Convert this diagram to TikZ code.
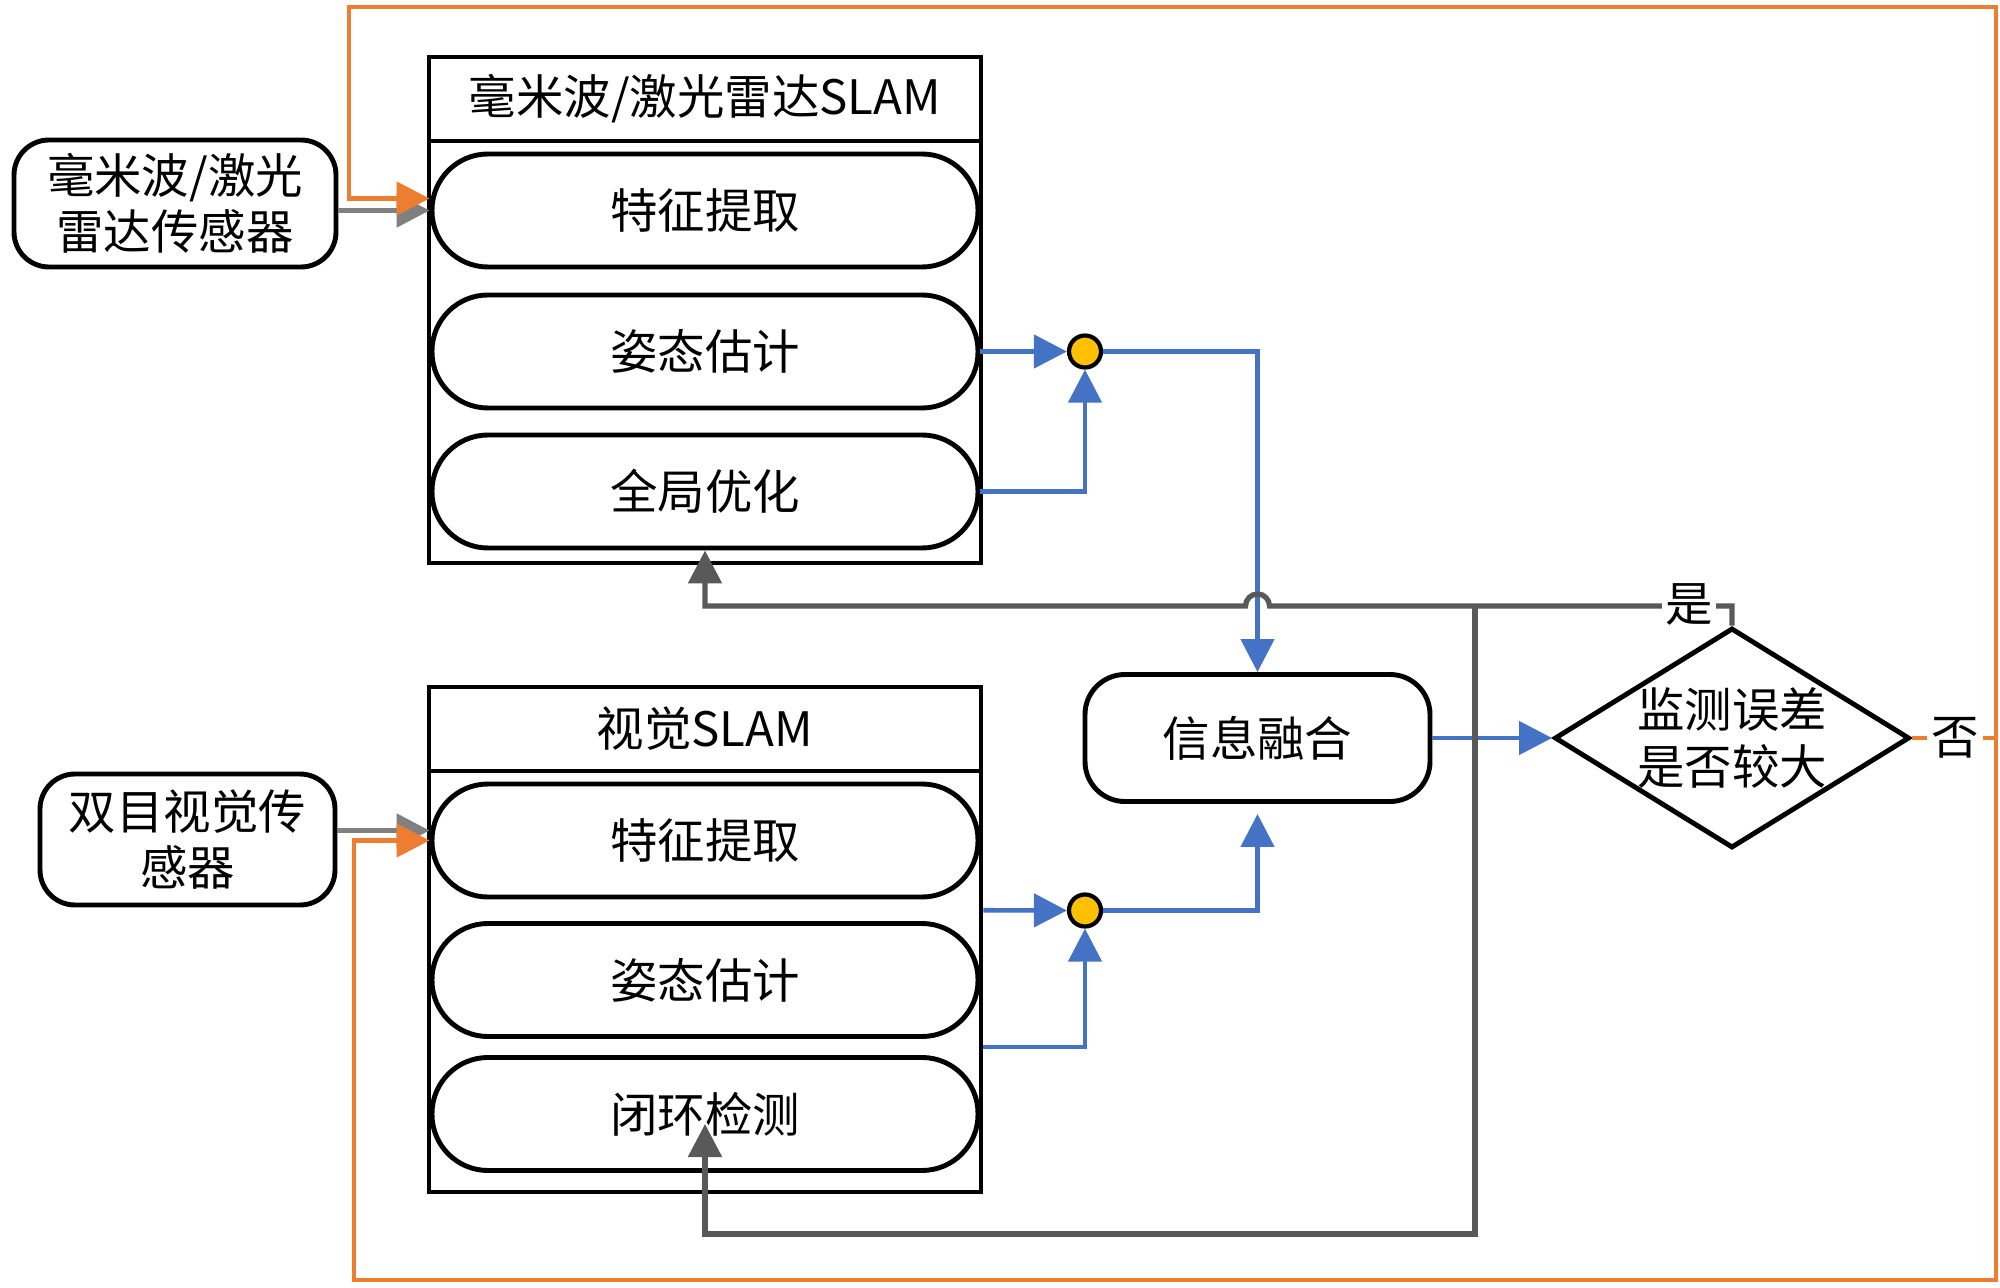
\documentclass[tikz,border=0pt]{standalone}
\usepackage{fontspec}
\setmainfont{Noto Sans CJK SC}
\usepackage{xcolor}
\usetikzlibrary{arrows.meta}
\usetikzlibrary{shapes.geometric}
\usetikzlibrary{calc}
\definecolor{lineorange}{HTML}{ED7D31}
\definecolor{lineblue}{HTML}{4472C4}
\definecolor{linegray}{HTML}{595959}
\definecolor{sensorgray}{HTML}{808080}
\definecolor{juncyellow}{HTML}{FFC000}
\tikzset{
	frame/.style={draw, line width=1.4pt, minimum width=5.52cm},
	pill/.style={draw, line width=1.4pt, rounded corners=0.56cm, minimum width=5.46cm, minimum height=1.13cm},
	sensor/.style={draw, line width=1.4pt, rounded corners=0.35cm, align=center, inner sep=0pt},
	junc/.style={draw, circle, fill=juncyellow, line width=1.2pt, minimum size=0.32cm, inner sep=0pt},
	tag/.style={fill=white, inner sep=1pt}
}

\begin{document}
\begin{tikzpicture}[font=\fontsize{13.5pt}{16pt}\selectfont, >={Triangle[length=0.33cm,width=0.33cm]}]
			\useasboundingbox (0,0) rectangle (20,-12.88);
			% radar SLAM
			\node[frame, minimum height=5.06cm] (lbox) at (7.05,-3.10){};
			\node[frame, minimum height=0.84cm] (ltitle) at (7.05,-0.99){毫米波/激光雷达SLAM};
			\node[pill] (l1) at (7.05,-2.105){特征提取};
			\node[pill] (l2) at (7.05,-3.515){姿态估计};
			\node[pill] (l3) at (7.05,-4.915){全局优化};
			% visual SLAM
			\node[frame, minimum height=5.05cm] (vbox) at (7.05,-9.395){};
			\node[frame, minimum height=0.84cm] (vtitle) at (7.05,-7.29){视觉SLAM};
			\node[pill] (v1) at (7.05,-8.405){特征提取};
			\node[pill] (v2) at (7.05,-9.80){姿态估计};
			\node[pill] (v3) at (7.05,-11.14){闭环检测};
			% sensors
			\node[sensor, minimum width=3.22cm, minimum height=1.27cm] (lsens) at (1.75,-2.035){毫米波/激光\\雷达传感器};
			\node[sensor, minimum width=2.95cm, minimum height=1.31cm] (vsens) at (1.875,-8.395){双目视觉传\\感器};
			% fusion and check
			\node[draw, line width=1.4pt, rounded corners=0.4cm, minimum width=3.45cm, minimum height=1.27cm] (fuse) at (12.575,-7.38){信息融合};
			\node[draw, diamond, line width=1.4pt, aspect=1.6, inner sep=0pt, minimum width=3.55cm, minimum height=2.2cm, align=center] (check) at (17.32,-7.38){监测误差\\是否较大};
			\node[junc] (c1) at (10.85,-3.515){};
			\coordinate (gap12) at ($(v1.south)!.5!(v2.north)$);
			\coordinate (gap23) at ($(v2.south)!.5!(v3.north)$);
			\node[junc] (c2) at (10.85,-9.105){};
			% corners of the loops
			\coordinate (grayrow) at (0,-6.06);
			\coordinate (split) at (14.75,-6.06);
			\coordinate (splitlow) at (14.75,-12.34);
			\coordinate (topright) at (19.96,-0.07);
			\coordinate (topleft) at (3.49,-0.07);
			\coordinate (botright) at (19.96,-12.80);
			\coordinate (botleft) at (3.54,-12.80);
			% sensor inputs
			\draw[->, sensorgray, line width=1.5pt] (lsens.east |- l1.west) -- (l1.west);
			\draw[->, sensorgray, line width=1.5pt] ([yshift=0.1cm]vsens.east |- v1.west) -- ([yshift=0.1cm]v1.west);
			% blue paths
			\draw[->, lineblue, line width=1.3pt] (l2.east) -- (c1.west);
			\draw[->, lineblue, line width=1.3pt] (l3.east) -| (c1.south);
			\draw[->, lineblue, line width=1.3pt] (c1.east) -| (fuse.north);
			\draw[->, lineblue, line width=1.3pt] (vbox.east |- gap12) -- (c2.west);
			\draw[->, lineblue, line width=1.3pt] (vbox.east |- gap23) -| (c2.south);
			\draw[->, lineblue, line width=1.3pt, shorten >=0.1cm] (c2.east) -| (fuse.south);
			\draw[->, lineblue, line width=1.3pt] (fuse.east) -- (check.west);
			% yes branch
			\coordinate (hop) at (fuse.north |- grayrow);
			\draw[->, linegray, line width=1.5pt] (check.north) -- (check.north |- grayrow) -- ([xshift=0.12cm]hop) arc[start angle=0, end angle=180, radius=0.12cm] -- (l3.south |- grayrow) -- (l3.south);
			\draw[->, linegray, line width=1.5pt] (split) -- (splitlow) -| ([yshift=-0.1cm]v3.center);
			\node[tag] (yes) at (16.89,-6.04){是};
			% no branch
			\node[tag] (no) at (19.55,-7.38){否};
			\draw[lineorange, line width=1.3pt] (check.east) -- (no.west);
			\draw[lineorange, line width=1.3pt] (no.east) -- (no.east -| topright);
			\draw[->, lineorange, line width=1.3pt] (no.east -| topright) -- (topright) -- (topleft) |- ([yshift=0.12cm]l1.west);
			\draw[->, lineorange, line width=1.3pt] (no.east -| botright) -- (botright) -- (botleft) |- (v1.west);
		\end{tikzpicture}
\end{document}
